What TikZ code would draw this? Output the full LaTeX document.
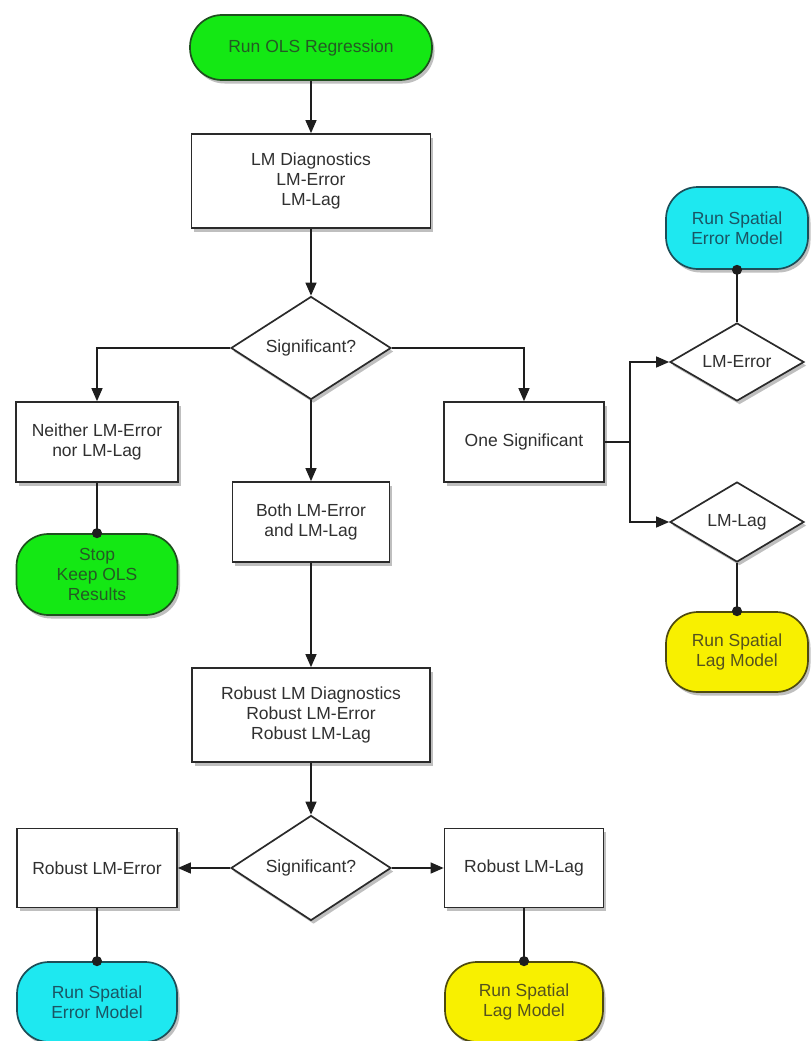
\documentclass[tikz,border=0pt]{standalone}
\usepackage{fontspec}
\setmainfont{Liberation Sans}
\usetikzlibrary{shapes.geometric,arrows.meta,shadows}
\definecolor{boxline}{HTML}{2A2A2A}
\definecolor{boxtext}{HTML}{303030}
\definecolor{lineclr}{HTML}{1E1E1E}
\definecolor{termgreen}{HTML}{14E814}
\definecolor{greenline}{HTML}{1F4F1F}
\definecolor{greentext}{HTML}{245A24}
\definecolor{termcyan}{HTML}{1EE8F0}
\definecolor{cyanline}{HTML}{1D4E58}
\definecolor{cyantext}{HTML}{1A5564}
\definecolor{termyellow}{HTML}{F8F000}
\definecolor{yellowline}{HTML}{4E4A10}
\definecolor{yellowtext}{HTML}{55521E}
\tikzset{
  base/.style={draw=boxline, line width=1.7pt, text=boxtext, align=center,
    inner sep=0pt, font=\fontsize{17.5}{20}\selectfont,
    drop shadow={shadow xshift=2.5pt, shadow yshift=-3.5pt, opacity=0.25, fill=black}},
  procbox/.style={base, rectangle, fill=white},
  term/.style={base, rectangle, rounded corners=32pt},
  greenterm/.style={term, fill=termgreen, draw=greenline, text=greentext},
  cyanterm/.style={term, fill=termcyan, draw=cyanline, text=cyantext},
  yellowterm/.style={term, fill=termyellow, draw=yellowline, text=yellowtext},
  dia/.style={base, diamond, fill=white, aspect=1.6},
  arr/.style={draw=lineclr, line width=1.3pt, -{Triangle[length=13pt,width=11pt]}},
  dotln/.style={draw=lineclr, line width=1.3pt, -{Circle[length=10pt]}, shorten >=-5pt},
}
\begin{document}
\begin{tikzpicture}[x=1pt,y=-1pt]
\useasboundingbox (0,0) rectangle (811,1041);
% main column
\node[greenterm, minimum width=242pt, minimum height=65pt] (t1) at (311,47.5) {Run OLS Regression};
\node[procbox, minimum width=239pt, minimum height=94pt] (b1) at (311,181) {LM Diagnostics\\LM-Error\\LM-Lag};
\node[dia, minimum width=160pt, minimum height=103pt] (d1) at (311,348) {Significant?};
\node[procbox, minimum width=162pt, minimum height=80pt] (b2) at (97,442) {Neither LM-Error\\nor LM-Lag};
\node[greenterm, minimum width=161pt, minimum height=81pt] (t2) at (97,574.5) {Stop\\Keep OLS\\Results};
\node[procbox, minimum width=160pt, minimum height=80pt] (b3) at (524,442) {One Significant};
\coordinate (j) at (630,442);
\node[dia, minimum width=134pt, minimum height=78pt] (d2) at (737,362) {LM-Error};
\node[dia, minimum width=134pt, minimum height=80pt] (d3) at (737,522) {LM-Lag};
\node[cyanterm, minimum width=142pt, minimum height=82pt] (t3) at (737,228) {Run Spatial\\Error Model};
\node[yellowterm, minimum width=142pt, minimum height=80pt] (t4) at (737,652) {Run Spatial\\Lag Model};
\node[procbox, minimum width=157pt, minimum height=80pt] (b4) at (311,522) {Both LM-Error\\and LM-Lag};
\node[procbox, minimum width=238pt, minimum height=94pt] (b5) at (311,715) {Robust LM Diagnostics\\Robust LM-Error\\Robust LM-Lag};
\node[dia, minimum width=160pt, minimum height=105pt] (d4) at (311,868) {Significant?};
\node[procbox, minimum width=160pt, minimum height=79pt] (b6) at (97,868) {Robust LM-Error};
\node[procbox, minimum width=159pt, minimum height=79pt] (b7) at (524,868) {Robust LM-Lag};
\node[cyanterm, minimum width=160pt, minimum height=80pt] (t5) at (97,1002) {Run Spatial\\Error Model};
\node[yellowterm, minimum width=158pt, minimum height=80pt] (t6) at (524,1002) {Run Spatial\\Lag Model};
% connectors
\draw[arr] (t1) -- (b1);
\draw[arr] (b1) -- (d1);
\draw[arr] (d1.west) -| (b2.north);
\draw[arr] (d1.east) -| (b3.north);
\draw[arr] (d1) -- (b4);
\draw[dotln] (b2) -- (t2);
\draw[arr] (b3.east) -- (j) |- (d2.west);
\draw[arr] (j) |- (d3.west);
\draw[dotln] (d2) -- (t3);
\draw[dotln] (d3) -- (t4);
\draw[arr] (b4) -- (b5);
\draw[arr] (b5) -- (d4);
\draw[arr] (d4) -- (b6);
\draw[arr] (d4) -- (b7);
\draw[dotln] (b6) -- (t5);
\draw[dotln] (b7) -- (t6);
\end{tikzpicture}
\end{document}
